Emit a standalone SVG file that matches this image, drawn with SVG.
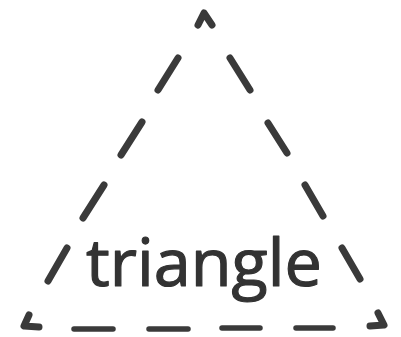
<svg xmlns="http://www.w3.org/2000/svg" width="401" height="337" viewBox="0 0 401 337">
<style>
.d{stroke:#3a3a3a;stroke-width:7;stroke-linecap:round;stroke-linejoin:round;fill:none}
.b{stroke:#3a3a3a;stroke-width:5.5;stroke-linecap:round;fill:none}
.t{font-family:"Comic Sans MS","Open Sans","Noto Sans",sans-serif;font-size:66px;fill:#333;stroke:#333;stroke-width:1.2;stroke-linejoin:round}
</style>
<rect width="401" height="337" fill="#fff"/>
<g id="triangle-shape">
<path class="d" d="M198,25 L204,13 L212,25"/>
<path class="d" d="M178,58 L158,90"/>
<path class="d" d="M142,122 L121,155"/>
<path class="d" d="M104,185 L83,218"/>
<path class="d" d="M67,248 L48,281"/>
<path class="d" d="M29,315 L24,326 L39,327"/>
<path class="d" d="M230,58 L250,90"/>
<path class="d" d="M268,123 L287,153"/>
<path class="d" d="M305,185 L323,216"/>
<path class="d" d="M342,248 L360,279"/>
<path class="d" d="M378,313 L384,325 L370,326"/>
<path class="b" d="M74,329 L113,329"/>
<path class="b" d="M149,329 L188,329"/>
<path class="b" d="M222,328 L260,328"/>
<path class="b" d="M296,328 L333,328"/>
</g>
<g id="label">
<text class="t" x="204" y="286" text-anchor="middle" textLength="236" lengthAdjust="spacingAndGlyphs">triangle</text>
</g>
</svg>
